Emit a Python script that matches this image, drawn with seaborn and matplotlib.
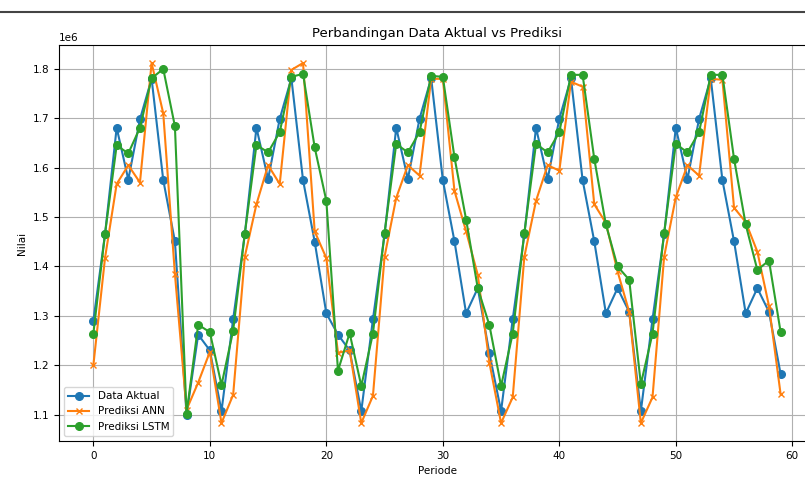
import numpy as np
import pandas as pd
import matplotlib
matplotlib.use("Agg")
import matplotlib.pyplot as plt
from matplotlib.lines import Line2D
import seaborn as sns

# Values (in millions, scaled to 1e6 below)
periode = list(range(60))

data_aktual = [1.290, 1.465, 1.681, 1.576, 1.698, 1.780, 1.575, 1.451, 1.100, 1.262, 1.230, 1.107,
               1.293, 1.465, 1.681, 1.577, 1.699, 1.781, 1.575, 1.450, 1.305, 1.262, 1.230, 1.107,
               1.293, 1.465, 1.681, 1.577, 1.699, 1.781, 1.575, 1.451, 1.305, 1.356, 1.224, 1.107,
               1.293, 1.465, 1.681, 1.577, 1.699, 1.781, 1.575, 1.451, 1.305, 1.356, 1.308, 1.107,
               1.293, 1.465, 1.681, 1.577, 1.699, 1.781, 1.575, 1.451, 1.305, 1.356, 1.308, 1.182]

prediksi_ann = [1.200, 1.417, 1.567, 1.605, 1.570, 1.812, 1.710, 1.385, 1.110, 1.165, 1.227, 1.083,
                1.140, 1.420, 1.526, 1.605, 1.567, 1.798, 1.812, 1.471, 1.417, 1.225, 1.230, 1.083,
                1.138, 1.420, 1.539, 1.605, 1.584, 1.780, 1.780, 1.553, 1.471, 1.383, 1.205, 1.083,
                1.135, 1.420, 1.533, 1.605, 1.594, 1.774, 1.764, 1.526, 1.488, 1.390, 1.308, 1.083,
                1.135, 1.420, 1.540, 1.605, 1.584, 1.780, 1.778, 1.519, 1.490, 1.430, 1.320, 1.141]

prediksi_lstm = [1.264, 1.466, 1.645, 1.629, 1.681, 1.781, 1.800, 1.684, 1.102, 1.282, 1.267, 1.160,
                 1.270, 1.466, 1.646, 1.631, 1.672, 1.784, 1.790, 1.641, 1.533, 1.189, 1.265, 1.158,
                 1.264, 1.468, 1.648, 1.631, 1.672, 1.786, 1.784, 1.621, 1.495, 1.356, 1.281, 1.158,
                 1.264, 1.468, 1.648, 1.631, 1.672, 1.788, 1.788, 1.618, 1.485, 1.400, 1.373, 1.162,
                 1.264, 1.468, 1.648, 1.631, 1.672, 1.788, 1.788, 1.618, 1.485, 1.393, 1.412, 1.267]

df = pd.DataFrame({
    "Periode": periode,
    "Data Aktual": np.array(data_aktual) * 1e6,
    "Prediksi ANN": np.array(prediksi_ann) * 1e6,
    "Prediksi LSTM": np.array(prediksi_lstm) * 1e6,
})

fig = plt.figure(figsize=(8.05, 4.84), dpi=100)
ax = fig.add_axes([59 / 805, 43 / 484, 756 / 805, 396 / 484])

series = [
    ("Data Aktual", "#1f77b4", "o", 5.5),
    ("Prediksi ANN", "#ff7f0e", "x", 4.5),
    ("Prediksi LSTM", "#2ca02c", "o", 5.5),
]
for name, color, marker, size in series:
    sns.lineplot(data=df, x="Periode", y=name, ax=ax, color=color,
                 marker=marker, markersize=size, markeredgecolor=color,
                 markeredgewidth=1.0, linewidth=1.5, label=name)

ax.set_title("Perbandingan Data Aktual vs Prediksi", fontsize=9.5)
ax.set_xlabel("Periode", fontsize=7.5)
ax.set_ylabel("Nilai", fontsize=7.5)
ax.tick_params(labelsize=7.5)
ax.yaxis.get_offset_text().set_fontsize(7.5)
ax.grid(True, color="#b0b0b0", linewidth=0.8)
ax.legend(loc="lower left", fontsize=7.5)

# dark line across the top of the screenshot
fig.add_artist(Line2D([0, 1], [1 - 12 / 484, 1 - 12 / 484], color="#444444", linewidth=1.5))

fig.savefig("out.png", dpi=100)
